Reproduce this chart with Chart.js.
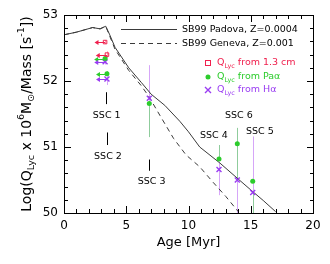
<!DOCTYPE html>
<html>
<head>
<meta charset="utf-8">
<script src="https://cdn.jsdelivr.net/npm/chart.js@4"></script>
<style>
  html, body { margin: 0; padding: 0; background: #fff; }
  #wrap { width: 330px; height: 264px; }
</style>
</head>
<body>
<div id="wrap"><canvas id="ageChart"></canvas></div>
<script>
// model tracks (age in Myr, log Q)
const padovaAge = [0, 1, 2.3, 2.9, 3.35, 3.65, 4.1, 5.2, 6.2, 7.0, 8.1, 9.3, 10.0, 10.9, 12.5, 13.9, 15.0, 16.0, 17.0];
const padovaQ   = [52.70, 52.74, 52.81, 52.79, 52.83, 52.71, 52.51, 52.20, 51.98, 51.80, 51.63, 51.39, 51.23, 51.00, 50.76, 50.53, 50.35, 50.19, 50.02];
const genevaAge = [0, 1, 2.3, 2.9, 3.35, 3.65, 4.1, 5.2, 6.2, 6.8, 7.7, 8.8, 9.8, 10.9, 12.0, 13.0, 14.0];
const genevaQ   = [52.70, 52.74, 52.81, 52.79, 52.83, 52.69, 52.48, 52.16, 51.93, 51.77, 51.48, 51.13, 50.88, 50.70, 50.46, 50.25, 50.02];

// Q_Lyc from 1.3 cm (SSC 1, 2)
const radioAge = [3.3, 3.45];
const radioQ = [52.59, 52.40];
const radioLo = [52.56, 52.35];
const radioHi = [52.62, 52.45];
const radioAgeLimit = [2.45, 2.55];

// Q_Lyc from Pa alpha (SSC 1, 2, 3, 4, 6, 5)
const paAge = [3.3, 3.45, 6.85, 12.45, 13.92, 15.16];
const paQ = [52.34, 52.11, 51.66, 50.82, 51.05, 50.48];
const paLo = [52.31, 52.07, 51.15, 50.82, 50.52, 49.6];
const paHi = [52.37, 52.15, 51.70, 51.03, 51.29, 50.48];
const paAgeLimit = [2.42, 2.57, null, null, null, null];

// Q_Lyc from H alpha
const haAge = [3.3, 3.45, 6.85, 12.45, 13.92, 15.16];
const haQ = [52.29, 52.03, 51.74, 50.66, 50.50, 50.31];
const haLo = [52.25, 51.94, 51.70, 50.27, 49.6, 50.31];
const haHi = [52.32, 52.07, 52.24, 50.78, 50.53, 51.16];
const haAgeLimit = [2.43, 2.57, null, null, null, null];

// cluster labels: text, age, logQ of label, and short marker line (from, to)
const sscNames = ['SSC 1', 'SSC 2', 'SSC 3', 'SSC 4', 'SSC 5', 'SSC 6'];
const sscLabelAge = [3.43, 3.53, 7.04, 12.04, 15.73, 14.04];
const sscLabelQ = [51.47, 50.85, 50.47, 51.17, 51.24, 51.47];
const sscTickAge = [3.35, 3.45, 6.85, null, null, null];
const sscTickTop = [51.83, 51.22, 50.81, null, null, null];
const sscTickBottom = [51.65, 51.03, 50.64, null, null, null];

const RED = '#f0204e';
const GREEN = '#2ccc2c';
const PURPLE = '#9a3cf2';
const GREEN_BAR = '#8fcc9c';
const PURPLE_BAR = '#d6a6f8';
const LINE = '#3a3a3a';
const FONT = "'DejaVu Sans', sans-serif";

function toPts(xs, ys) {
  return xs.map((x, i) => ({ x: x, y: ys[i] }));
}

function drawRich(ctx, parts, x, y, size) {
  // parts: [text, mode] where mode is '', 'sub' or 'sup'
  let total = 0;
  parts.forEach(p => {
    ctx.font = (p[1] ? size * 0.68 : size) + 'px ' + FONT;
    total += ctx.measureText(p[0]).width;
  });
  let cx = x - total / 2;
  parts.forEach(p => {
    const s = p[1] ? size * 0.68 : size;
    ctx.font = s + 'px ' + FONT;
    let dy = 0;
    if (p[1] === 'sub') dy = size * 0.3;
    if (p[1] === 'sup') dy = -size * 0.38;
    ctx.fillText(p[0], cx, y + dy);
    cx += ctx.measureText(p[0]).width;
  });
}

function drawRichLeft(ctx, parts, x, y, size) {
  let cx = x;
  parts.forEach(p => {
    const s = p[1] ? size * 0.68 : size;
    ctx.font = s + 'px ' + FONT;
    const dy = p[1] === 'sub' ? size * 0.3 : 0;
    ctx.fillText(p[0], cx, y + dy);
    cx += ctx.measureText(p[0]).width;
  });
}

function marker(ctx, kind, x, y, color) {
  ctx.save();
  ctx.strokeStyle = color;
  ctx.fillStyle = color;
  if (kind === 'square') {
    ctx.lineWidth = 1;
    ctx.strokeRect(x - 2.5, y - 2.5, 5, 5);
  } else if (kind === 'dot') {
    ctx.beginPath();
    ctx.arc(x, y, 2.5, 0, Math.PI * 2);
    ctx.fill();
  } else {
    ctx.lineWidth = 1.4;
    ctx.beginPath();
    ctx.moveTo(x - 3, y - 3); ctx.lineTo(x + 3, y + 3);
    ctx.moveTo(x + 3, y - 3); ctx.lineTo(x - 3, y + 3);
    ctx.stroke();
  }
  ctx.restore();
}

const extrasPlugin = {
  id: 'extras',
  beforeDatasetsDraw(chart) {
    const ctx = chart.ctx;
    const xs = chart.scales.x, ys = chart.scales.y;
    const area = chart.chartArea;
    ctx.save();
    ctx.beginPath();
    ctx.rect(area.left, area.top, area.right - area.left, area.bottom - area.top);
    ctx.clip();

    function bars(ages, lo, hi, color) {
      ctx.strokeStyle = color;
      ctx.lineWidth = 1;
      ages.forEach((a, i) => {
        const px = Math.round(xs.getPixelForValue(a)) + 0.5;
        ctx.beginPath();
        ctx.moveTo(px, ys.getPixelForValue(lo[i]));
        ctx.lineTo(px, ys.getPixelForValue(hi[i]));
        ctx.stroke();
      });
    }
    function arrows(ages, qs, limits, color) {
      ctx.strokeStyle = color;
      ctx.fillStyle = color;
      ctx.lineWidth = 1;
      ages.forEach((a, i) => {
        if (limits[i] == null) return;
        const x0 = xs.getPixelForValue(a);
        const x1 = xs.getPixelForValue(limits[i]);
        const py = Math.round(ys.getPixelForValue(qs[i])) + 0.5;
        ctx.beginPath();
        ctx.moveTo(x0, py);
        ctx.lineTo(x1 + 3, py);
        ctx.stroke();
        ctx.beginPath();
        ctx.moveTo(x1, py);
        ctx.lineTo(x1 + 4, py - 2.5);
        ctx.lineTo(x1 + 4, py + 2.5);
        ctx.closePath();
        ctx.fill();
      });
    }
    bars(radioAge, radioLo, radioHi, '#f6a0b4');
    bars(paAge, paLo, paHi, GREEN_BAR);
    bars(haAge, haLo, haHi, PURPLE_BAR);
    arrows(radioAge, radioQ, radioAgeLimit, RED);
    arrows(paAge, paQ, paAgeLimit, GREEN);
    arrows(haAge, haQ, haAgeLimit, PURPLE);
    ctx.restore();
  },
  afterDraw(chart) {
    const ctx = chart.ctx;
    const xs = chart.scales.x, ys = chart.scales.y;
    const a = chart.chartArea;
    const L = Math.round(a.left), R = Math.round(a.right);
    const T = Math.round(a.top), B = Math.round(a.bottom);
    ctx.save();
    ctx.fillStyle = '#000';

    // frame, as filled strips
    ctx.fillRect(L, T, R - L + 1, 1);
    ctx.fillRect(L, B, R - L + 1, 1);
    ctx.fillRect(L, T, 1, B - T + 1);
    ctx.fillRect(R, T, 1, B - T + 1);

    // inward ticks on all sides
    for (let k = 0; k <= xs.max - xs.min; k++) {
      const len = k % 5 === 0 ? 7 : 4;
      const px = Math.round(xs.getPixelForValue(xs.min + k));
      ctx.fillRect(px, B - len, 1, len);
      ctx.fillRect(px, T, 1, len);
    }
    for (let k = 0; k <= (ys.max - ys.min) * 5; k++) {
      const len = k % 5 === 0 ? 7 : 4;
      const py = Math.round(ys.getPixelForValue(ys.min + k * 0.2));
      ctx.fillRect(L, py, len, 1);
      ctx.fillRect(R - len + 1, py, len, 1);
    }
    ctx.strokeStyle = '#000';
    ctx.lineWidth = 1;

    // axis titles
    ctx.textBaseline = 'middle';
    ctx.textAlign = 'center';
    ctx.font = '13px ' + FONT;
    ctx.fillText('Age [Myr]', (a.left + a.right) / 2, 243);
    ctx.save();
    ctx.translate(27, (a.top + a.bottom) / 2);
    ctx.rotate(-Math.PI / 2);
    ctx.textAlign = 'left';
    drawRich(ctx, [['Log(Q', ''], ['Lyc', 'sub'], [' x 10', ''], ['6', 'sup'], ['M', ''], ['\u2299', 'sub'],
      ['/Mass [s', ''], ['-1', 'sup'], ['])', '']], 0, 0, 14);
    ctx.restore();

    // cluster labels
    ctx.textAlign = 'center';
    ctx.font = '9.5px ' + FONT;
    sscNames.forEach((n, i) => {
      ctx.fillText(n, xs.getPixelForValue(sscLabelAge[i]), ys.getPixelForValue(sscLabelQ[i]));
      if (sscTickAge[i] != null) {
        const px = Math.round(xs.getPixelForValue(sscTickAge[i])) + 0.5;
        ctx.beginPath();
        ctx.moveTo(px, ys.getPixelForValue(sscTickTop[i]));
        ctx.lineTo(px, ys.getPixelForValue(sscTickBottom[i]));
        ctx.stroke();
      }
    });

    // legend: model tracks
    ctx.textAlign = 'left';
    ctx.strokeStyle = LINE;
    ctx.beginPath();
    ctx.moveTo(121, 29.5); ctx.lineTo(177, 29.5);
    ctx.stroke();
    ctx.setLineDash([5, 4]);
    ctx.beginPath();
    ctx.moveTo(121, 43.5); ctx.lineTo(177, 43.5);
    ctx.stroke();
    ctx.setLineDash([]);
    ctx.fillStyle = '#000';
    ctx.font = '9.5px ' + FONT;
    ctx.fillText('SB99 Padova, Z=0.0004', 182, 30);
    ctx.fillText('SB99 Geneva, Z=0.001', 182, 44);

    // legend: measurements
    const rows = [
      ['square', RED, 'from 1.3 cm', 63],
      ['dot', GREEN, 'from Pa\u03b1', 77],
      ['cross', PURPLE, 'from H\u03b1', 90]
    ];
    rows.forEach(r => {
      marker(ctx, r[0], 208, r[3], r[1]);
      ctx.fillStyle = r[1];
      drawRichLeft(ctx, [['Q', ''], ['Lyc', 'sub'], [' ' + r[2], '']], 217, r[3], 9.5);
    });
    ctx.restore();
  }
};

const ctx = document.getElementById('ageChart').getContext('2d');
new Chart(ctx, {
  type: 'scatter',
  data: {
    datasets: [{
      label: 'Q_Lyc from 1.3 cm',
      data: toPts(radioAge, radioQ),
      pointStyle: 'rect',
      pointRadius: 2.5,
      borderColor: RED,
      backgroundColor: 'rgba(0,0,0,0)',
      borderWidth: 1
    }, {
      label: 'Q_Lyc from Pa alpha',
      data: toPts(paAge, paQ),
      pointStyle: 'circle',
      pointRadius: 2.5,
      borderColor: GREEN,
      backgroundColor: GREEN,
      borderWidth: 0
    }, {
      label: 'Q_Lyc from H alpha',
      data: toPts(haAge, haQ),
      pointStyle: 'crossRot',
      pointRadius: 3.5,
      borderColor: PURPLE,
      backgroundColor: PURPLE,
      borderWidth: 1.4
    }, {
      label: 'SB99 Padova, Z=0.0004',
      data: toPts(padovaAge, padovaQ),
      showLine: true,
      pointRadius: 0,
      borderColor: LINE,
      borderWidth: 1,
      tension: 0
    }, {
      label: 'SB99 Geneva, Z=0.001',
      data: toPts(genevaAge, genevaQ),
      showLine: true,
      pointRadius: 0,
      borderColor: LINE,
      borderWidth: 1,
      borderDash: [5, 4],
      tension: 0
    }]
  },
  options: {
    responsive: true,
    maintainAspectRatio: false,
    animation: false,
    layout: { padding: { top: 15, right: 17, left: 0, bottom: 0 } },
    plugins: {
      legend: { display: false },
      tooltip: { enabled: false }
    },
    scales: {
      x: {
        min: 0, max: 20,
        ticks: { stepSize: 5, color: '#000', font: { family: FONT, size: 12 }, padding: 6, maxRotation: 0 },
        grid: { display: false, drawTicks: false },
        border: { display: false },
        afterFit: s => { s.height = 51; }
      },
      y: {
        min: 50, max: 53,
        ticks: { stepSize: 1, color: '#000', font: { family: FONT, size: 12 }, padding: 6 },
        grid: { display: false, drawTicks: false },
        border: { display: false },
        afterFit: s => { s.width = 64; }
      }
    }
  },
  plugins: [extrasPlugin]
});
</script>
</body>
</html>
